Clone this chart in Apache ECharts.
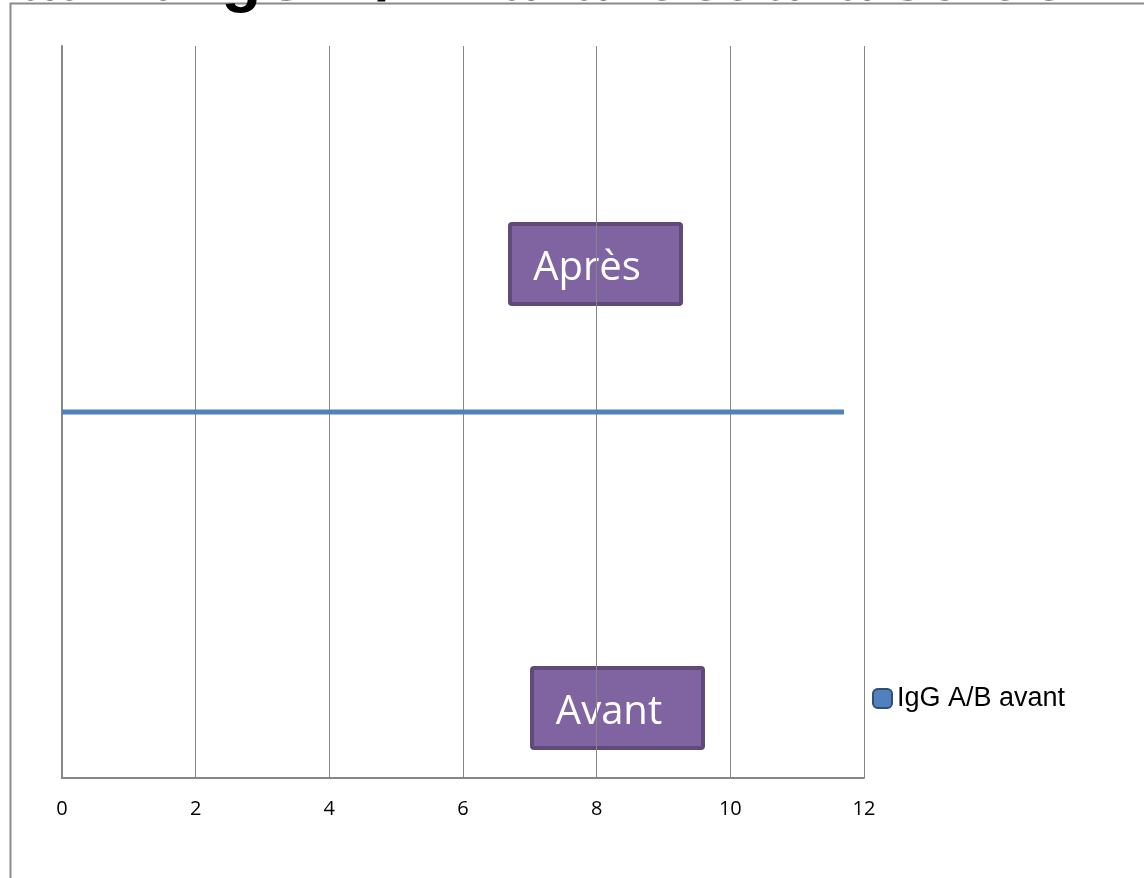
<!DOCTYPE html>
<html>
<head>
<meta charset="utf-8">
<script src="https://cdn.jsdelivr.net/npm/echarts@6/dist/echarts.min.js"></script>
<style>
  html, body { margin: 0; padding: 0; background: #fff; }
  #chart { width: 1144px; height: 878px; }
</style>
</head>
<body>
<div id="chart"></div>
<script>
// une seule série, une seule catégorie
const categories = ['IgG A/B']
const seriesNames = ['IgG A/B avant']
const avantValues = [11.7]
const xTicks = { min: 0, max: 12, interval: 2 }
const boxLabels = ['Après', 'Avant']

const chart = echarts.init(document.getElementById('chart'))

function box(x, y, label) {
  return {
    type: 'group',
    left: x,
    top: y,
    children: [
      {
        type: 'rect',
        shape: { x: 0, y: 0, width: 171, height: 80, r: 2 },
        style: { fill: '#8064A2', stroke: '#5F4A7A', lineWidth: 4 },
      },
      {
        type: 'text',
        x: 77,
        y: 45,
        style: {
          text: label,
          fill: '#fff',
          font: '40px "Open Sans"',
          align: 'center',
          verticalAlign: 'middle',
        },
      },
    ],
  }
}

chart.setOption({
  animation: false,
  backgroundColor: '#fff',
  grid: { left: 62, right: 280, top: 46, bottom: 100 },
  legend: {
    data: seriesNames,
    left: 867,
    top: 680,
    icon: 'roundRect',
    itemWidth: 19,
    itemHeight: 19,
    itemGap: 6,
    textStyle: { fontFamily: 'Liberation Sans', fontSize: 27, color: '#000', padding: [4, 0, 0, 0] },
    itemStyle: { borderColor: '#2F4F7A', borderWidth: 2 },
  },
  xAxis: {
    type: 'value',
    min: xTicks.min,
    max: xTicks.max,
    interval: xTicks.interval,
    axisLine: { show: true, lineStyle: { color: '#868686', width: 2 } },
    axisTick: { show: false },
    axisLabel: { color: '#000', fontFamily: 'Open Sans', fontSize: 20, margin: 21 },
    splitLine: { show: true, lineStyle: { color: '#868686', width: 1 } },
  },
  yAxis: {
    type: 'category',
    data: categories,
    axisLine: { show: true, lineStyle: { color: '#868686', width: 2 } },
    axisTick: { show: false },
    axisLabel: { show: false },
  },
  series: [
    {
      name: seriesNames[0],
      type: 'bar',
      data: avantValues,
      barWidth: 5,
      itemStyle: { color: '#4F81BD' },
    },
  ],
  graphic: [
    // bordure de la zone graphique (coupée en haut et à droite)
    {
      type: 'rect',
      shape: { x: 10.5, y: 3.5, width: 1300, height: 1000 },
      style: { fill: null, stroke: '#8a8a8a', lineWidth: 2 },
      silent: true,
    },
    // titre, presque entièrement hors cadre
    {
      type: 'text',
      x: 525,
      y: 15,
      style: {
        text: "Taux d'IgG A/B : avant et à la sortie",
        font: 'bold 65px "Liberation Sans"',
        fill: '#000',
        align: 'center',
        verticalAlign: 'bottom',
      },
      z: 10,
    },
    box(508, 222, boxLabels[0]),
    box(530, 666, boxLabels[1]),
  ],
})
</script>
</body>
</html>
